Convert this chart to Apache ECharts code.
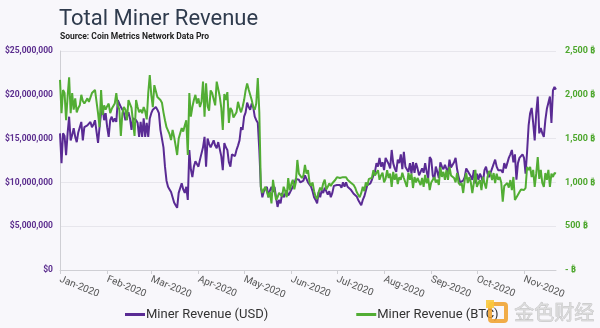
<!DOCTYPE html>
<html>
<head>
<meta charset="utf-8">
<script src="https://cdn.jsdelivr.net/npm/echarts@6/dist/echarts.min.js"></script>
<style>
html,body{margin:0;padding:0;background:#f8f7fb;}
#chart{width:600px;height:328px;}
</style>
</head>
<body>
<div id="chart"></div>
<script>
// Daily series starting 2020-01-01
const startDate = '2020-01-01';
// Miner revenue in USD, millions of dollars
const usdMillions = [
15.6,12.2,15.6,15.3,13.1,15.6,17.5,14.8,15.4,16.2,
15.2,14.6,15.7,16.3,16.9,14.8,16.3,16.3,16.5,16.6,
16.9,16.3,16.6,17.1,15.8,14.5,16.3,17.9,18.6,17.1,
17.9,16.3,15.2,17.1,17.5,16.9,17.3,16.9,19.4,19.2,
18.6,18.3,17.9,17.1,17.5,18.0,17.3,16.0,17.3,17.5,
17.1,16.8,15.2,16.9,15.2,17.3,15.2,16.8,15.2,17.3,
17.9,18.3,18.5,18.6,18.3,17.9,16.0,15.0,14.0,11.8,
10.2,9.5,9.2,8.9,8.3,7.7,7.4,7.1,8.8,8.9,
9.9,9.2,8.8,9.5,8.0,13.7,11.5,10.6,11.8,12.4,
12.1,11.8,12.6,12.8,14.0,15.2,11.8,15.0,14.4,14.0,
14.2,14.8,14.2,13.9,14.6,14.5,13.0,11.4,14.5,14.0,
13.7,12.3,11.8,13.2,13.4,13.0,13.7,14.2,14.8,16.3,
16.0,17.5,18.0,19.1,18.6,18.3,19.0,18.6,17.5,17.1,
16.8,13.7,9.5,8.3,9.0,8.8,9.5,8.3,9.1,9.5,
8.9,9.5,8.3,7.2,8.0,7.6,8.8,8.3,8.4,9.1,
8.5,8.8,9.0,9.5,9.8,10.4,10.6,10.3,10.0,9.9,
10.2,10.8,10.4,10.0,9.8,9.5,9.0,8.3,8.0,7.6,
8.9,8.3,9.1,8.8,9.4,9.0,8.6,9.0,8.3,8.8,
9.6,9.4,9.7,9.5,9.7,9.4,10.0,9.5,10.0,9.5,
9.4,9.2,9.0,8.7,8.6,8.4,8.0,8.0,7.4,8.0,
8.4,8.6,9.7,9.5,9.9,10.3,10.8,11.2,12.2,11.8,
12.8,11.8,12.3,11.4,12.8,13.0,12.1,11.6,13.7,12.2,
11.6,11.2,12.6,12.2,13.2,11.5,13.5,11.8,11.6,11.2,
12.2,11.0,12.3,11.1,12.2,11.6,10.8,11.0,11.6,11.1,
12.2,11.2,10.5,12.9,12.6,10.8,10.3,11.8,11.2,10.5,
12.3,11.8,11.5,12.0,12.2,11.1,12.6,11.7,11.5,12.3,
12.8,11.5,10.6,10.0,9.9,10.2,10.6,11.6,11.4,11.0,
10.7,10.3,11.4,9.9,11.0,10.3,11.0,10.6,10.0,11.4,
11.8,11.0,10.6,10.6,11.6,11.4,12.6,11.8,11.4,11.6,
11.4,11.1,12.2,11.6,11.4,12.8,13.2,13.7,12.3,13.2,
10.3,12.2,12.8,13.0,13.2,12.8,11.0,13.5,16.5,17.9,
18.5,16.8,14.8,17.9,19.8,15.6,16.2,15.6,15.2,17.1,
18.4,19.1,19.8,16.8,20.5,20.9,20.6
];
// Miner revenue in BTC
const btcRevenue = [
2170,1790,2055,2020,1710,1980,2200,1790,2020,1830,
1960,1800,1850,1880,2000,1930,1900,1930,1960,1920,
1900,2020,2040,2055,2050,1790,1630,2055,1770,1880,
1830,1870,1900,1790,1840,1860,1900,2020,1880,1830,
1530,1790,1860,1830,1710,1940,1960,1850,1860,1530,
1940,1860,1800,1830,1790,1860,1810,1720,2020,2226,
2000,1860,2110,2090,1975,1960,1940,1910,1800,1710,
1630,1650,1550,1484,1600,1520,1420,1313,1500,1560,
1620,1580,1650,1710,1313,2020,1750,1860,1940,2000,
1900,1960,1860,1920,2150,1750,2130,1870,1820,2050,
2020,1950,1880,2150,2130,1980,1850,1600,2010,1940,
2030,1680,1850,1820,1740,1750,1800,1920,1850,1800,
1860,1940,2050,2130,2060,2000,1940,1860,1830,1900,
2190,1800,950,880,920,950,890,830,890,760,
1030,910,800,830,880,860,840,950,900,830,
1050,910,980,1030,920,1000,1256,1100,1080,1050,
1080,1200,1100,1140,1000,960,1000,900,840,810,
890,940,910,990,1030,920,950,990,960,990,
975,1030,1060,1060,1050,1030,1060,1050,1060,1030,
1010,1000,990,970,940,890,860,830,880,950,
900,1000,960,1040,1060,1050,1140,1080,1062,1140,
1030,1080,1110,1000,1040,1140,1050,1100,950,1120,
1030,1100,980,1060,1030,1110,1050,1040,948,1110,
1030,1100,936,1060,1000,1050,1070,970,1050,948,
1085,990,1050,913,1000,993,1060,1000,1030,970,
1176,1062,1120,1030,1140,1030,1176,1080,1100,1050,
1000,1107,993,970,993,879,1027,1107,993,1060,
1000,879,993,1142,948,993,1027,913,1062,993,
930,1062,1130,1100,1027,1107,993,1100,1030,1062,
1000,780,960,980,993,940,1027,913,1062,800,
810,860,890,920,936,913,936,1176,1140,1176,
1060,1142,948,1100,1290,1040,1142,993,948,1107,
1030,1142,948,1100,1062,1107,1100
];
const monthNames = ['Jan','Feb','Mar','Apr','May','Jun','Jul','Aug','Sep','Oct','Nov','Dec'];
const usdTicks = [0, 5000000, 10000000, 15000000, 20000000, 25000000];
const btcTicks = [0, 500, 1000, 1500, 2000, 2500];
const seriesNames = ['Miner Revenue (USD)', 'Miner Revenue (BTC)'];

function pad(n){return n<10?'0'+n:''+n;}
const dates = usdMillions.map((_, i) => {
  const d = new Date(startDate + 'T00:00:00Z');
  d.setUTCDate(d.getUTCDate() + i);
  return d.getUTCFullYear() + '-' + pad(d.getUTCMonth()+1) + '-' + pad(d.getUTCDate());
});
const isMonthStart = (idx, val) => val.slice(8) === '01';

const chart = echarts.init(document.getElementById('chart'), null, {renderer:'canvas'});
const FONT = 'Roboto, "Noto Sans", sans-serif';
chart.setOption({
  backgroundColor: '#f8f7fb',
  animation: false,
  textStyle: {fontFamily: FONT},
  title: [
    {text: 'Total Miner Revenue', left: 54, top: 3, padding: 5,
     textStyle: {fontSize: 22, fontWeight: 'normal', color: '#2f3b4d', fontFamily: FONT}},
    {text: 'Source: Coin Metrics Network Data Pro', left: 55, top: 27, padding: 5,
     textStyle: {fontSize: 8.5, fontWeight: 'bold', color: '#1e1e1e', fontFamily: FONT}}
  ],
  grid: {left: 60, right: 44, top: 51, bottom: 58, containLabel: false},
  legend: {
    data: seriesNames, left: 120, top: 303, itemWidth: 20, itemHeight: 3, icon: 'rect',
    itemGap: 88,
    textStyle: {fontSize: 13, color: '#333', fontFamily: FONT, padding: [0,0,0,-4]}
  },
  xAxis: {
    type: 'category', data: dates, boundaryGap: false,
    axisLine: {lineStyle: {color: '#cfcfd4'}},
    axisTick: {interval: isMonthStart, length: 4, lineStyle: {color: '#cfcfd4'}},
    axisLabel: {interval: isMonthStart, rotate: -22, fontSize: 10, color: '#555', margin: 9,
      formatter: v => monthNames[parseInt(v.slice(5,7),10)-1] + '-' + v.slice(0,4)},
    splitLine: {show: false}
  },
  yAxis: [
    {type: 'value', position: 'left', min: usdTicks[0], max: usdTicks[usdTicks.length-1], interval: 5000000,
     axisLine: {show: true, lineStyle: {color: '#cfcfd4'}}, axisTick: {show: false},
     splitLine: {lineStyle: {color: '#e7e6ec'}},
     axisLabel: {fontSize: 8.5, fontWeight: 'bold', color: '#5b2d8e', margin: 7,
       formatter: v => '$' + v.toLocaleString('en-US')}},
    {type: 'value', position: 'right', min: btcTicks[0], max: btcTicks[btcTicks.length-1], interval: 500,
     axisLine: {show: false}, axisTick: {show: false}, splitLine: {show: false},
     axisLabel: {fontSize: 9, fontWeight: 'bold', color: '#4ea72e', margin: 9,
       formatter: v => (v === 0 ? '-' : v.toLocaleString('en-US')) + ' \u20BF'}}
  ],
  series: [
    {name: seriesNames[0], type: 'line', yAxisIndex: 0, showSymbol: false,
     data: usdMillions.map(v => v * 1000000), color: '#5a2b94',
     lineStyle: {width: 2, color: '#5a2b94'}},
    {name: seriesNames[1], type: 'line', yAxisIndex: 1, showSymbol: false,
     data: btcRevenue, color: '#52ad34',
     lineStyle: {width: 2, color: '#52ad34'}}
  ],
  graphic: [
    {type: 'rect', shape: {x: 490, y: 304, width: 16, height: 17, r: 2},
     style: {fill: 'none', stroke: 'rgba(240,160,40,0.85)', lineWidth: 4}, z: 100},
    {type: 'rect', shape: {x: 486, y: 300, width: 8, height: 8},
     style: {fill: 'rgba(250,200,60,0.9)'}, z: 101},
    {type: 'text', left: 514, top: 302, z: 100,
     style: {text: '金色财经', fontSize: 20, fontFamily: '"Noto Sans CJK SC", sans-serif',
       fill: 'rgba(215,215,215,0.85)', stroke: 'rgba(150,150,150,0.6)', lineWidth: 0.6}}
  ]
});
</script>
</body>
</html>
